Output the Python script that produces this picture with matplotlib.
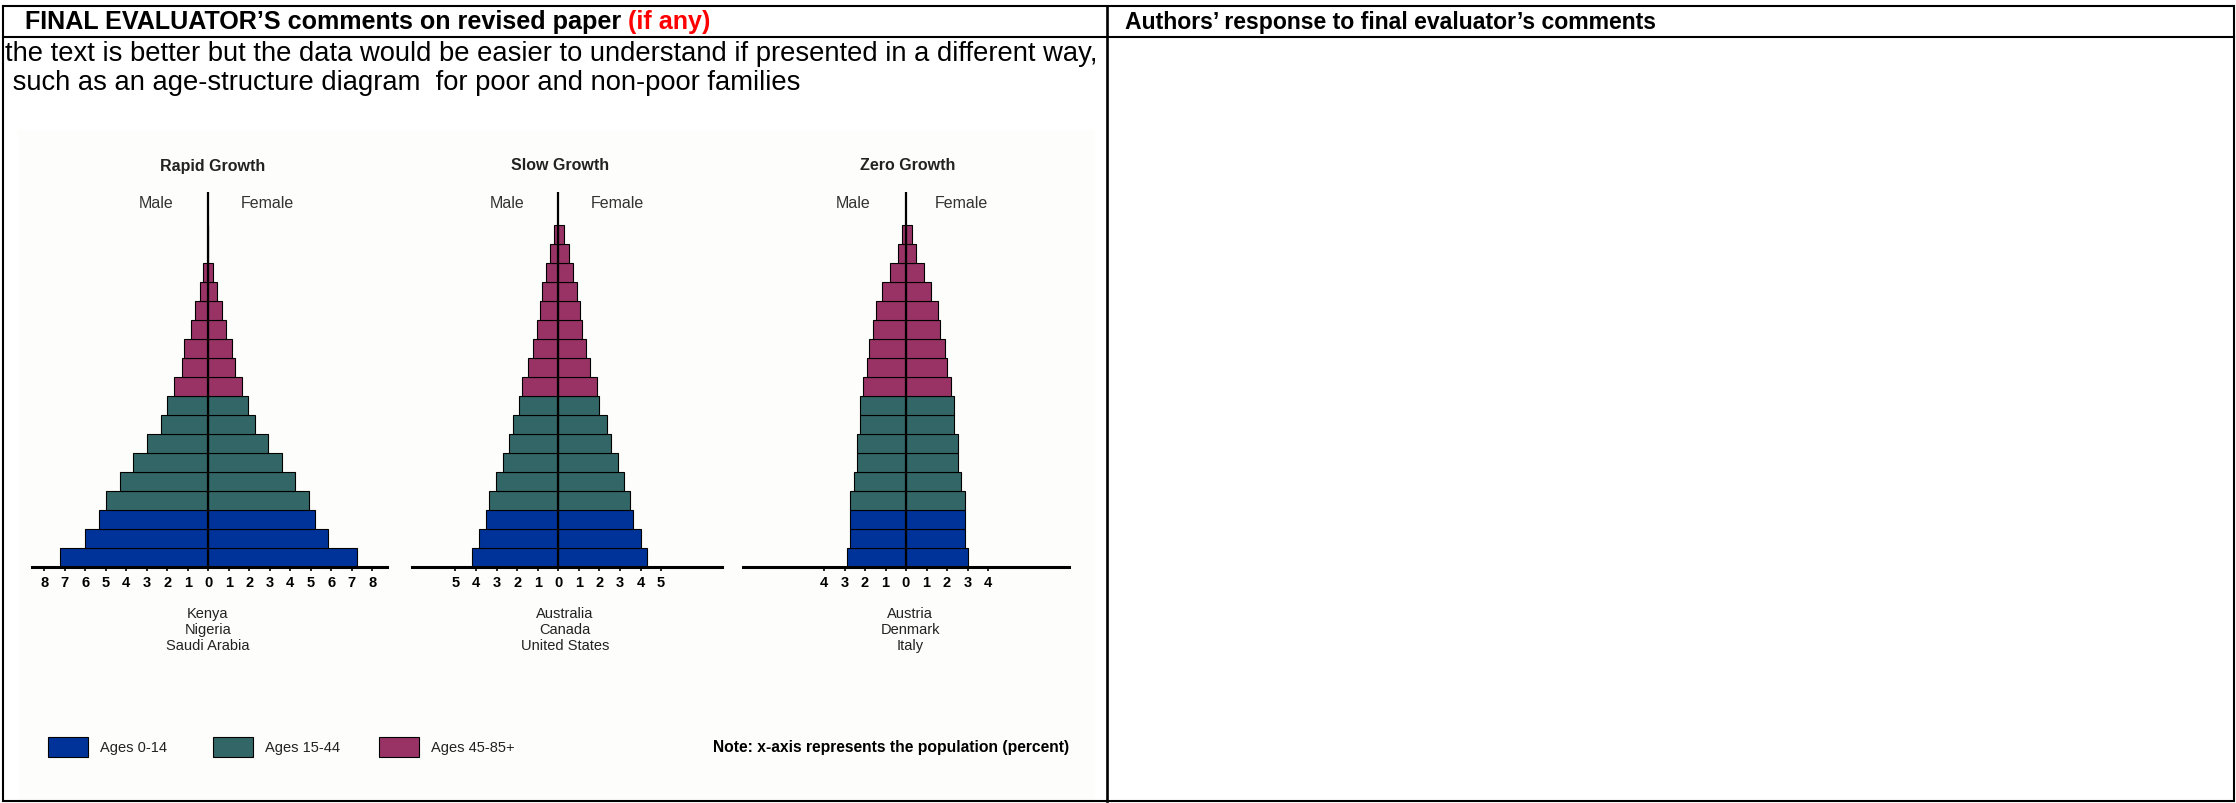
import matplotlib.pyplot as plt
from matplotlib.patches import Rectangle

plt.rcParams['font.family'] = ['Liberation Sans', 'DejaVu Sans']

W, H = 2236, 804

# ---- data (percent of population, bottom row = ages 0-4) ----
age_groups = ['0-4', '5-9', '10-14', '15-19', '20-24', '25-29', '30-34', '35-39', '40-44',
              '45-49', '50-54', '55-59', '60-64', '65-69', '70-74', '75-79', '80-84', '85+']
row_group = [0, 0, 0, 1, 1, 1, 1, 1, 1, 2, 2, 2, 2, 2, 2, 2, 2, 2]
legend_labels = ['Ages 0-14', 'Ages 15-44', 'Ages 45-85+']
group_colors = ['#003399', '#336666', '#993366']

rapid_male = [7.25, 6.0, 5.35, 5.0, 4.3, 3.65, 3.0, 2.3, 2.0, 1.65, 1.3, 1.2, 0.85, 0.65, 0.4, 0.25, 0, 0]
rapid_female = [7.25, 5.85, 5.2, 4.9, 4.25, 3.6, 2.9, 2.3, 1.95, 1.65, 1.3, 1.15, 0.85, 0.65, 0.4, 0.25, 0, 0]
slow_male = [4.2, 3.85, 3.5, 3.35, 3.05, 2.7, 2.4, 2.2, 1.9, 1.75, 1.45, 1.25, 1.05, 0.9, 0.8, 0.6, 0.4, 0.2]
slow_female = [4.3, 4.0, 3.65, 3.5, 3.2, 2.9, 2.55, 2.35, 2.0, 1.9, 1.55, 1.35, 1.15, 1.05, 0.9, 0.7, 0.5, 0.3]
zero_male = [2.9, 2.75, 2.75, 2.75, 2.55, 2.4, 2.4, 2.25, 2.25, 2.1, 1.9, 1.8, 1.6, 1.45, 1.15, 0.8, 0.4, 0.2]
zero_female = [3.0, 2.9, 2.9, 2.9, 2.7, 2.55, 2.55, 2.35, 2.35, 2.2, 2.0, 1.9, 1.65, 1.55, 1.2, 0.9, 0.5, 0.3]

titles = ['Rapid Growth', 'Slow Growth', 'Zero Growth']
countries = [['Kenya', 'Nigeria', 'Saudi Arabia'],
             ['Australia', 'Canada', 'United States'],
             ['Austria', 'Denmark', 'Italy']]
tick_max = [8, 5, 4]

header_left = 'FINAL EVALUATOR\u2019S comments on revised paper'
header_red = ' (if any)'
header_right = 'Authors\u2019 response to final evaluator\u2019s comments'
comment_1 = 'the text is better but the data would be easier to understand if presented in a different way,'
comment_2 = ' such as an age-structure diagram  for poor and non-poor families'
note = 'Note: x-axis represents the population (percent)'

# ---- page / table ----
fig = plt.figure(figsize=(W / 100, H / 100), dpi=100)
fig.patch.set_facecolor('white')
renderer = fig.canvas.get_renderer()

ax0 = fig.add_axes([0, 0, 1, 1])
ax0.set_xlim(0, W)
ax0.set_ylim(H, 0)
ax0.axis('off')

lw = 1.5
ax0.plot([3, 2234, 2234, 3, 3], [7, 7, 802, 802, 7], color='black', lw=lw, solid_joinstyle='miter')
ax0.plot([3, 2234], [38, 38], color='black', lw=lw)
ax0.plot([1107, 1107], [7, 802], color='black', lw=1.9)

# picture background (barely visible)
ax0.add_patch(Rectangle((18, 131), 1095 - 18, H - 131, facecolor='#fdfdfc', edgecolor='none'))


def fit(txt, width):
    fs = txt.get_fontsize()
    w = txt.get_window_extent(renderer).width
    txt.set_fontsize(fs * width / w)
    return txt.get_fontsize()


tmp = ax0.text(25, 29, header_left + header_red, fontsize=15, fontweight='bold')
hs = fit(tmp, 713 - 25)
tmp.remove()
t1 = ax0.text(25, 29, header_left, fontsize=hs, fontweight='bold', va='baseline')
bb = t1.get_window_extent(renderer)
xr = ax0.transData.inverted().transform((bb.x1, bb.y0))[0]
ax0.text(xr, 29, header_red, fontsize=hs, fontweight='bold', color='#ff0000', va='baseline')

t2 = ax0.text(1125, 29, header_right, fontsize=15, fontweight='bold', va='baseline')
fit(t2, 1661 - 1125)

c1 = ax0.text(5, 61, comment_1, fontsize=15, va='baseline')
cs = fit(c1, 1098 - 5)
ax0.text(5, 90, comment_2, fontsize=cs, va='baseline')

# ---- pyramids ----
panels = [
    dict(cx=208.3, scale=20.5, x0=31.7, x1=386.7, male=rapid_male, female=rapid_female),
    dict(cx=558.3, scale=20.57, x0=411.7, x1=721.7, male=slow_male, female=slow_female),
    dict(cx=906.0, scale=20.5, x0=743.0, x1=1069.0, male=zero_male, female=zero_female),
]
axis_px, top_px, row_px = 568, 193, 19
title_x = [213, 560, 908]
male_x = [156, 507, 853]
female_x = [267, 617, 961]
country_x = [208, 565, 910]

for i, p in enumerate(panels):
    ax = fig.add_axes([p['x0'] / W, (H - axis_px) / H, (p['x1'] - p['x0']) / W, (axis_px - top_px) / H])
    ax.set_facecolor('none')
    ax.set_xlim((p['x0'] - p['cx']) / p['scale'], (p['x1'] - p['cx']) / p['scale'])
    ytop = (axis_px - top_px) / row_px
    ax.set_ylim(0, ytop)
    ys = [k + 0.5 for k in range(len(age_groups))]
    cols = [group_colors[g] for g in row_group]
    ax.barh(ys, [-v for v in p['male']], height=1, color=cols, edgecolor='black', linewidth=0.8)
    ax.barh(ys, p['female'], height=1, color=cols, edgecolor='black', linewidth=0.8)
    ax.plot([0, 0], [0, ytop], color='black', lw=1.6, zorder=5)
    for s in ['top', 'left', 'right']:
        ax.spines[s].set_visible(False)
    ax.spines['bottom'].set_linewidth(2.2)
    n = tick_max[i]
    ax.set_xticks(range(-n, n + 1))
    ax.set_xticklabels([str(abs(t)) for t in range(-n, n + 1)], fontweight='bold')
    ax.tick_params(axis='x', direction='out', length=3, width=1.2, pad=3, labelsize=10.5)
    ax.set_yticks([])

    ax0.text(title_x[i], 166, titles[i], fontsize=11.5, fontweight='bold', ha='center', va='center', color='#222222')
    ax0.text(male_x[i], 204, 'Male', fontsize=11.5, ha='center', va='center', color='#333333')
    ax0.text(female_x[i], 204, 'Female', fontsize=11.5, ha='center', va='center', color='#333333')
    for j, c in enumerate(countries[i]):
        ax0.text(country_x[i], 614 + 16 * j, c, fontsize=10.5, ha='center', va='center', color='#222222')

# ---- legend ----
box_x = [48, 213, 379]
for k, lab in enumerate(legend_labels):
    ax0.add_patch(Rectangle((box_x[k], 738), 40, 20, facecolor=group_colors[k], edgecolor='black', linewidth=0.8))
    ax0.text(box_x[k] + 52, 748, lab, fontsize=10.5, va='center', color='#222222')
tn = ax0.text(713, 748, note, fontsize=11, fontweight='bold', va='center')
fit(tn, 1070 - 713)

fig.savefig('out.png', dpi=100, facecolor='white')
